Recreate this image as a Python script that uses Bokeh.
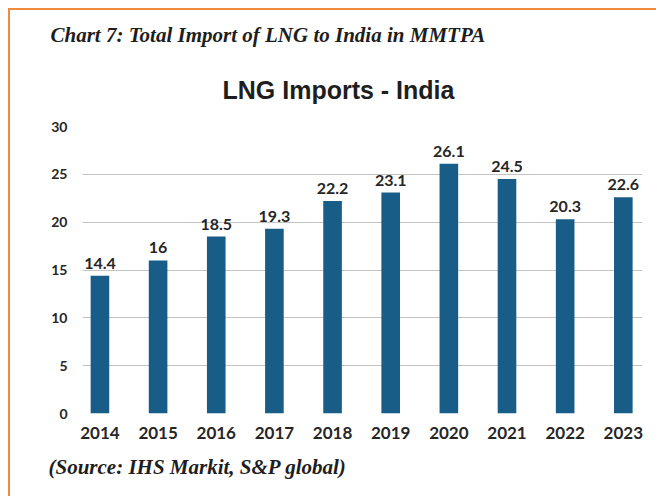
from bokeh.plotting import figure
from bokeh.models import ColumnDataSource, FixedTicker, Range1d, Title, LabelSet
from bokeh.core.properties import value
from bokeh.embed import file_html
from bokeh.resources import INLINE

years = ["2014", "2015", "2016", "2017", "2018", "2019", "2020", "2021", "2022", "2023"]
imports = [14.4, 16, 18.5, 19.3, 22.2, 23.1, 26.1, 24.5, 20.3, 22.6]
y_ticks = [0, 5, 10, 15, 20, 25, 30]

BAR = "#175d88"
TXT = "#262626"
NUM_FONT = "Lato"

xs = list(range(len(years)))
src = ColumnDataSource(dict(x=xs, y=imports, lab=[f"{v:g}" for v in imports]))

p = figure(width=648, height=488, output_backend="svg", toolbar_location=None,
           x_range=Range1d(-0.30, len(years) - 1 + 0.33), y_range=Range1d(0, 30),
           min_border_left=72, min_border_right=16, min_border_top=116, min_border_bottom=85,
           background_fill_color="white", border_fill_color="white")
p.outline_line_color = None
p.styles = {"margin-left": "8px", "margin-top": "8px",
            "border-top": "2px solid #f08a3c", "border-left": "2px solid #f08a3c"}

p.vbar(x="x", top="y", width=0.32, source=src, fill_color=BAR, line_color=None)

labels = LabelSet(x="x", y="y", text="lab", source=src, text_align="center",
                  text_baseline="bottom", y_offset=7, text_font=value(NUM_FONT),
                  text_font_style="bold", text_font_size="16px", text_color=TXT)
p.add_layout(labels)

p.xgrid.grid_line_color = None
p.ygrid.ticker = FixedTicker(ticks=y_ticks)
p.ygrid.grid_line_color = "#c4c4c4"
p.ygrid.grid_line_width = 1

p.yaxis.ticker = FixedTicker(ticks=y_ticks)
p.yaxis.axis_line_color = None
p.yaxis.major_tick_line_color = None
p.yaxis.minor_tick_line_color = None
p.yaxis.major_label_text_font = NUM_FONT
p.yaxis.major_label_text_font_style = "bold"
p.yaxis.major_label_text_font_size = "14px"
p.yaxis.major_label_text_color = TXT
p.yaxis.major_label_standoff = 9

p.xaxis.ticker = FixedTicker(ticks=xs)
p.xaxis.major_label_overrides = {i: y for i, y in enumerate(years)}
p.xaxis.axis_line_color = None
p.xaxis.major_tick_line_color = None
p.xaxis.minor_tick_line_color = None
p.xaxis.major_label_text_font = NUM_FONT
p.xaxis.major_label_text_font_style = "bold"
p.xaxis.major_label_text_font_size = "17px"
p.xaxis.major_label_text_color = TXT
p.xaxis.major_label_standoff = 7

p.title = Title(text="Chart 7: Total Import of LNG to India in MMTPA", align="left",
                offset=-32, standoff=8, text_font="Liberation Serif",
                text_font_style="bold italic", text_font_size="21px", text_color="#1e1e1e")
p.add_layout(Title(text="LNG Imports - India", align="left", offset=140, standoff=46,
                   text_font="Liberation Sans", text_font_style="bold",
                   text_font_size="25px", text_color="#1e1e1e"), "above")
p.add_layout(Title(text="(Source: IHS Markit, S&P global)", align="left",
                   offset=-34, standoff=23, text_font="Liberation Serif",
                   text_font_style="bold italic", text_font_size="21px",
                   text_color="#1e1e1e"), "below")

open("out.html", "w").write(file_html(p, INLINE))
